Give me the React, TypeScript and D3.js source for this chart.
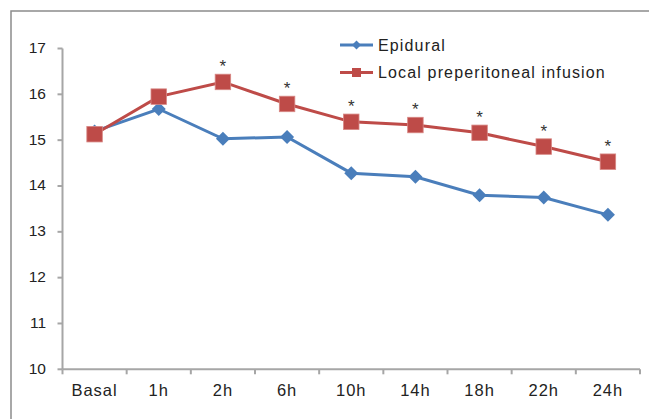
import React from "react";
import * as d3 from "d3";

const categories = ["Basal", "1h", "2h", "6h", "10h", "14h", "18h", "22h", "24h"];
const epidural = [15.19, 15.68, 15.03, 15.07, 14.28, 14.2, 13.8, 13.75, 13.37];
const localInfusion = [15.13, 15.95, 16.27, 15.79, 15.4, 15.33, 15.16, 14.86, 14.53];
const significant = [false, false, true, true, true, true, true, true, true];
const yTicks = [10, 11, 12, 13, 14, 15, 16, 17];
const seriesNames = ["Epidural", "Local preperitoneal infusion"];

const W = 649;
const H = 419;
const left = 62.5;
const right = 640;
const top = 48.5;
const bottom = 369.3;
const BLUE = "#4A7EBB";
const RED = "#BE4B48";
const AXIS = "#A6A6A6";
const FONT = "'Liberation Sans', Arial, sans-serif";

export default function App() {
  const x = d3.scaleBand<string>().domain(categories).range([left, right]);
  const y = d3.scaleLinear().domain([10, 17]).range([bottom, top]);
  const cx = (c: string) => (x(c) as number) + x.bandwidth() / 2;
  const line = d3
    .line<number>()
    .x((_, i) => cx(categories[i]))
    .y((v) => y(v));
  const diamond = (px: number, py: number, r: number) =>
    `M${px},${py - r}L${px + r},${py}L${px},${py + r}L${px - r},${py}Z`;
  const boundaries = [...categories.map((c) => x(c) as number), right];

  return (
    <svg width={W} height={H} style={{ position: "absolute", left: 0, top: 0, background: "#fff" }}>
      <rect x={0} y={0} width={W} height={H} fill="#fff" />
      <rect x={11} y={11} width={W + 20} height={H + 20} fill="none" stroke="#8C8C8C" strokeWidth={1.5} />
      {/* axes */}
      <line x1={left} y1={top} x2={left} y2={bottom} stroke={AXIS} strokeWidth={2} />
      <line x1={left} y1={bottom} x2={right} y2={bottom} stroke={AXIS} strokeWidth={2} />
      {yTicks.map((t) => (
        <g key={t}>
          <line x1={left - 5} x2={left} y1={y(t)} y2={y(t)} stroke={AXIS} strokeWidth={2} />
          <text x={46} y={y(t) - 1} dy="0.35em" textAnchor="end" fontFamily={FONT} fontSize={15.5} fill="#222">
            {t}
          </text>
        </g>
      ))}
      {boundaries.map((b, i) => (
        <line key={i} x1={b} x2={b} y1={bottom} y2={bottom + 5} stroke={AXIS} strokeWidth={2} />
      ))}
      {categories.map((c) => (
        <text
          key={c}
          x={cx(c)}
          y={390}
          dy="0.35em"
          textAnchor="middle"
          fontFamily={FONT}
          fontSize={16.5}
          letterSpacing={1}
          fill="#222"
        >
          {c}
        </text>
      ))}
      {/* series */}
      <path d={line(epidural) || ""} fill="none" stroke={BLUE} strokeWidth={3} />
      {epidural.map((v, i) => (
        <path key={i} d={diamond(cx(categories[i]), y(v), 7)} fill={BLUE} />
      ))}
      <path d={line(localInfusion) || ""} fill="none" stroke={RED} strokeWidth={3} />
      {localInfusion.map((v, i) => (
        <rect
          key={i}
          x={cx(categories[i]) - 7.75}
          y={y(v) - 7.75}
          width={15.5}
          height={15.5}
          fill={RED}
          stroke="#D88784"
          strokeWidth={0.8}
        />
      ))}
      {localInfusion.map((v, i) =>
        significant[i] ? (
          <text
            key={i}
            x={cx(categories[i])}
            y={y(v) - 10}
            textAnchor="middle"
            fontFamily={FONT}
            fontSize={17}
            fill="#333"
          >
            *
          </text>
        ) : null
      )}
      {/* legend */}
      <line x1={340} x2={373} y1={45} y2={45} stroke={BLUE} strokeWidth={3} />
      <path d={diamond(356.5, 45, 4.5)} fill={BLUE} />
      <text x={378} y={45} dy="0.35em" fontFamily={FONT} fontSize={16} letterSpacing={1.15} fill="#222">
        {seriesNames[0]}
      </text>
      <line x1={340} x2={373} y1={72.5} y2={72.5} stroke={RED} strokeWidth={3} />
      <rect x={352} y={68} width={9} height={9} fill={RED} />
      <text x={378} y={72.5} dy="0.35em" fontFamily={FONT} fontSize={16} letterSpacing={1.15} fill="#222">
        {seriesNames[1]}
      </text>
    </svg>
  );
}
